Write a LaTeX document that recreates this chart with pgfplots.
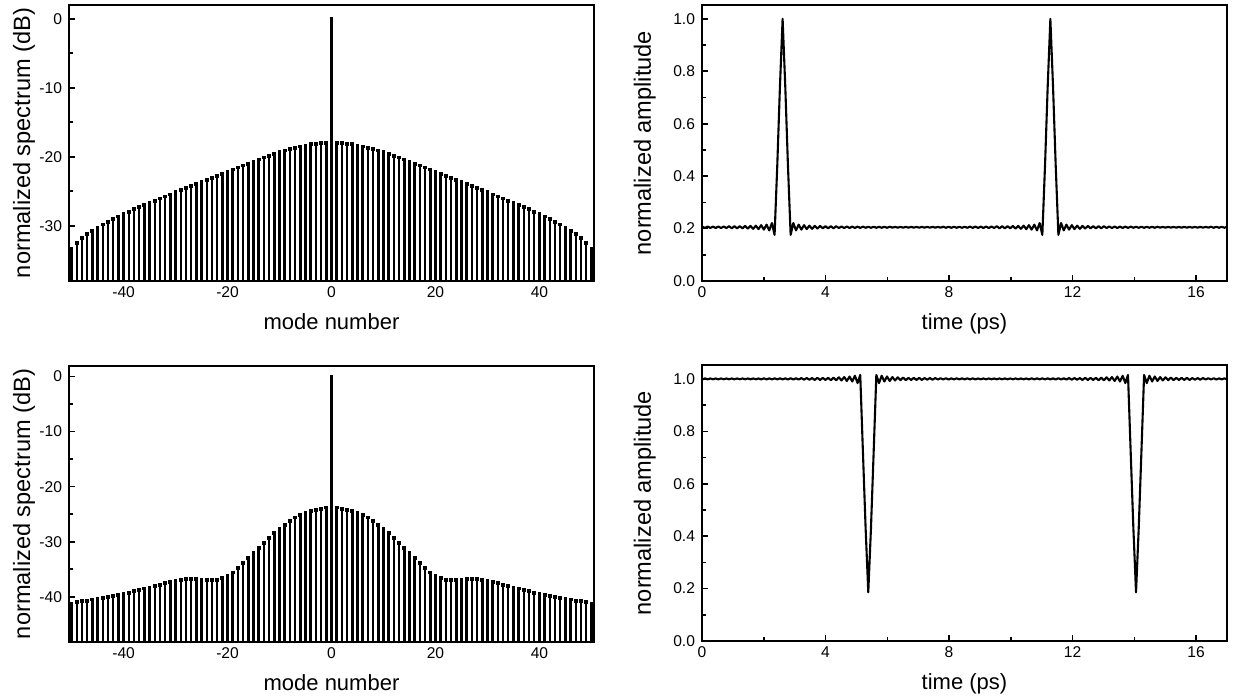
\documentclass[border=0pt]{standalone}
\usepackage{pgfplots}
\pgfplotsset{compat=1.18}
\usepackage{pgfplotstable}
\usepackage{fontspec}
\setmainfont{Liberation Sans}

\pgfplotstableread{
n top bot
-50 -33.4 -41.2
-49 -32.5 -41.0
-48 -31.8 -40.8
-47 -31.2 -40.7
-46 -30.7 -40.5
-45 -30.25 -40.4
-44 -29.8 -40.2
-43 -29.4 -40.1
-42 -29.0 -39.9
-41 -28.65 -39.7
-40 -28.3 -39.5
-39 -27.95 -39.3
-38 -27.6 -39.0
-37 -27.25 -38.8
-36 -26.95 -38.5
-35 -26.65 -38.3
-34 -26.35 -38.0
-33 -26.05 -37.8
-32 -25.75 -37.5
-31 -25.45 -37.3
-30 -25.15 -37.1
-29 -24.85 -36.9
-28 -24.55 -36.8
-27 -24.25 -36.8
-26 -23.95 -36.8
-25 -23.65 -36.9
-24 -23.35 -37.0
-23 -23.05 -37.0
-22 -22.75 -36.9
-21 -22.45 -36.6
-20 -22.15 -36.2
-19 -21.85 -35.6
-18 -21.55 -34.8
-17 -21.25 -33.9
-16 -21.0 -33.0
-15 -20.7 -32.0
-14 -20.4 -31.1
-13 -20.1 -30.2
-12 -19.85 -29.3
-11 -19.6 -28.4
-10 -19.35 -27.6
-9 -19.1 -26.9
-8 -18.9 -26.2
-7 -18.7 -25.6
-6 -18.5 -25.1
-5 -18.35 -24.7
-4 -18.2 -24.4
-3 -18.1 -24.2
-2 -18.05 -24.0
-1 -18.0 -23.8
0 0 0
1 -18.0 -23.8
2 -18.05 -24.0
3 -18.1 -24.2
4 -18.2 -24.4
5 -18.35 -24.7
6 -18.5 -25.1
7 -18.7 -25.6
8 -18.9 -26.2
9 -19.1 -26.9
10 -19.35 -27.6
11 -19.6 -28.4
12 -19.85 -29.3
13 -20.1 -30.2
14 -20.4 -31.1
15 -20.7 -32.0
16 -21.0 -33.0
17 -21.25 -33.9
18 -21.55 -34.8
19 -21.85 -35.6
20 -22.15 -36.2
21 -22.45 -36.6
22 -22.75 -36.9
23 -23.05 -37.0
24 -23.35 -37.0
25 -23.65 -36.9
26 -23.95 -36.8
27 -24.25 -36.8
28 -24.55 -36.8
29 -24.85 -36.9
30 -25.15 -37.1
31 -25.45 -37.3
32 -25.75 -37.5
33 -26.05 -37.8
34 -26.35 -38.0
35 -26.65 -38.3
36 -26.95 -38.5
37 -27.25 -38.8
38 -27.6 -39.0
39 -27.95 -39.3
40 -28.3 -39.5
41 -28.65 -39.7
42 -29.0 -39.9
43 -29.4 -40.1
44 -29.8 -40.2
45 -30.25 -40.4
46 -30.7 -40.5
47 -31.2 -40.7
48 -31.8 -40.8
49 -32.5 -41.0
50 -33.4 -41.2
}\spec

\pgfplotstableread{
t a b
0.009 0.2075 0.998
0.096 0.2025 1.002
0.182 0.2075 0.998
0.269 0.2025 1.0015
0.356 0.2075 0.9985
0.443 0.202 1.0015
0.529 0.208 0.9985
0.616 0.202 1.0015
0.703 0.208 0.9985
0.789 0.202 1.0015
0.876 0.209 0.9985
0.963 0.201 1.0015
1.049 0.209 0.9985
1.136 0.201 1.0015
1.223 0.209 0.9985
1.310 0.201 1.0015
1.396 0.210 0.9985
1.483 0.200 1.0015
1.570 0.210 0.9985
1.656 0.199 1.0015
1.743 0.211 0.9985
1.830 0.198 1.0015
1.916 0.213 0.998
2.003 0.196 1.002
2.090 0.215 0.998
2.177 0.193 1.002
2.263 0.221 0.998
2.350 0.176 1.002
2.437 0.44 0.998
2.523 0.74 1.002
2.610 1.0 0.998
2.697 0.74 1.002
2.783 0.44 0.9975
2.870 0.176 1.0025
2.957 0.221 0.9975
3.044 0.193 1.0025
3.130 0.215 0.9975
3.217 0.196 1.003
3.304 0.213 0.997
3.390 0.198 1.003
3.477 0.211 0.997
3.564 0.199 1.003
3.650 0.210 0.996
3.737 0.200 1.004
3.824 0.210 0.996
3.911 0.201 1.004
3.997 0.209 0.996
4.084 0.201 1.004
4.171 0.209 0.995
4.257 0.201 1.005
4.344 0.209 0.995
4.431 0.202 1.006
4.517 0.208 0.994
4.604 0.202 1.007
4.691 0.208 0.992
4.778 0.202 1.009
4.864 0.2075 0.990
4.951 0.2025 1.012
5.038 0.2075 0.984
5.124 0.2025 1.015
5.211 0.2075 0.72
5.298 0.203 0.43
5.384 0.207 0.186
5.471 0.203 0.43
5.558 0.207 0.72
5.645 0.203 1.015
5.731 0.207 0.984
5.818 0.203 1.012
5.905 0.207 0.990
5.991 0.203 1.009
6.078 0.207 0.992
6.165 0.2035 1.007
6.251 0.2065 0.994
6.338 0.2035 1.006
6.425 0.2065 0.995
6.512 0.2035 1.005
6.598 0.2065 0.995
6.685 0.2035 1.004
6.772 0.2065 0.996
6.858 0.2035 1.004
6.945 0.2065 0.996
7.032 0.2035 1.004
7.118 0.2065 0.996
7.205 0.2035 1.003
7.292 0.2065 0.997
7.379 0.2035 1.003
7.465 0.2065 0.997
7.552 0.2035 1.003
7.639 0.2065 0.9975
7.725 0.2035 1.0025
7.812 0.207 0.9975
7.899 0.203 1.0025
7.985 0.207 0.9975
8.072 0.203 1.002
8.159 0.207 0.998
8.246 0.203 1.002
8.332 0.207 0.998
8.419 0.203 1.002
8.506 0.207 0.998
8.592 0.203 1.002
8.679 0.2075 0.998
8.766 0.2025 1.002
8.852 0.2075 0.998
8.939 0.2025 1.0015
9.026 0.2075 0.9985
9.113 0.202 1.0015
9.199 0.208 0.9985
9.286 0.202 1.0015
9.373 0.208 0.9985
9.459 0.202 1.0015
9.546 0.209 0.9985
9.633 0.201 1.0015
9.719 0.209 0.9985
9.806 0.201 1.0015
9.893 0.209 0.9985
9.980 0.201 1.0015
10.066 0.210 0.9985
10.153 0.200 1.0015
10.240 0.210 0.9985
10.326 0.199 1.0015
10.413 0.211 0.9985
10.500 0.198 1.0015
10.586 0.213 0.998
10.673 0.196 1.002
10.760 0.215 0.998
10.847 0.193 1.002
10.933 0.221 0.998
11.020 0.176 1.002
11.107 0.44 0.998
11.193 0.74 1.002
11.280 1.0 0.998
11.367 0.74 1.002
11.453 0.44 0.9975
11.540 0.176 1.0025
11.627 0.221 0.9975
11.714 0.193 1.0025
11.800 0.215 0.9975
11.887 0.196 1.003
11.974 0.213 0.997
12.060 0.198 1.003
12.147 0.211 0.997
12.234 0.199 1.003
12.320 0.210 0.996
12.407 0.200 1.004
12.494 0.210 0.996
12.581 0.201 1.004
12.667 0.209 0.996
12.754 0.201 1.004
12.841 0.209 0.995
12.927 0.201 1.005
13.014 0.209 0.995
13.101 0.202 1.006
13.187 0.208 0.994
13.274 0.202 1.007
13.361 0.208 0.992
13.448 0.202 1.009
13.534 0.2075 0.990
13.621 0.2025 1.012
13.708 0.2075 0.984
13.794 0.2025 1.015
13.881 0.2075 0.72
13.968 0.203 0.43
14.054 0.207 0.186
14.141 0.203 0.43
14.228 0.207 0.72
14.315 0.203 1.015
14.401 0.207 0.984
14.488 0.203 1.012
14.575 0.207 0.990
14.661 0.203 1.009
14.748 0.207 0.992
14.835 0.2035 1.007
14.921 0.2065 0.994
15.008 0.2035 1.006
15.095 0.2065 0.995
15.182 0.2035 1.005
15.268 0.2065 0.995
15.355 0.2035 1.004
15.442 0.2065 0.996
15.528 0.2035 1.004
15.615 0.2065 0.996
15.702 0.2035 1.004
15.788 0.2065 0.996
15.875 0.2035 1.003
15.962 0.2065 0.997
16.049 0.2035 1.003
16.135 0.2065 0.997
16.222 0.2035 1.003
16.309 0.2065 0.9975
16.395 0.2035 1.0025
16.482 0.207 0.9975
16.569 0.203 1.0025
16.655 0.207 0.9975
16.742 0.203 1.002
16.829 0.207 0.998
16.916 0.203 1.002
17.002 0.207 0.998
}\trace

\pgfplotsset{
  base/.style={
    scale only axis, width=262.5pt, height=138pt,
    axis line style={line width=0.9pt, black},
    tick align=inside, xtick pos=left, ytick pos=left,
    major tick length=3pt, minor tick length=1.8pt,
    every tick/.style={black, line width=0.8pt},
    minor tick num=1,
    tick label style={font=\fontsize{7.8}{9}\selectfont, black},
    label style={font=\fontsize{11}{13}\selectfont, black},
    /pgf/number format/assume math mode=true,
    xticklabel style={anchor=base, yshift=-8.5pt},
    xlabel style={at={(axis description cs:0.5,-0.1775)}, anchor=base},
  },
  spec/.style={base, xmin=-50.5, xmax=50.5, xtick={-40,-20,0,20,40},
    xlabel={mode number}, ylabel={normalized spectrum (dB)},
    ylabel style={at={(axis description cs:-0.0857,0.5)}, anchor=center,
      font=\fontsize{11.8}{13}\selectfont}},
  amp/.style={base, xmin=0, xmax=17, ymin=0, ymax=1.053,
    xtick={0,4,8,12,16}, ytick={0,0.2,0.4,0.6,0.8,1.0},
    yticklabel style={/pgf/number format/.cd, fixed, fixed zerofill, precision=1},
    xlabel={time (ps)}, ylabel={normalized amplitude},
    ylabel style={at={(axis description cs:-0.109,0.5)}, anchor=center,
      font=\fontsize{11.8}{13}\selectfont}},
  stem/.style={black, only marks, mark=square*, mark size=0.7pt,
    mark options={line width=0pt},
    error bars/.cd, y dir=minus, y explicit, error mark=none,
    error bar style={line width=1.25pt, black}},
  trace/.style={black, line width=1.05pt, line join=round, no marks},
}

\begin{document}
\begin{tikzpicture}
\path[use as bounding box] (0,0) rectangle (617.5pt,350pt);

\begin{axis}[spec, at={(34.5pt,209.5pt)}, anchor=south west,
  ymin=-38, ymax=2, ytick={0,-10,-20,-30}]
\addplot[stem] table[x=n, y=top, y error expr=\thisrow{top}+38] {\spec};
\end{axis}

\begin{axis}[amp, at={(351pt,209.5pt)}, anchor=south west]
\addplot[trace] table[x=t, y=a] {\trace};
\end{axis}

\begin{axis}[spec, at={(34.5pt,29pt)}, anchor=south west,
  ymin=-48.2, ymax=1.9, ytick={0,-10,-20,-30,-40}]
\addplot[stem] table[x=n, y=bot, y error expr=\thisrow{bot}+48.2] {\spec};
\end{axis}

\begin{axis}[amp, at={(351pt,29.5pt)}, anchor=south west]
\addplot[trace] table[x=t, y=b] {\trace};
\end{axis}
\end{tikzpicture}
\end{document}
